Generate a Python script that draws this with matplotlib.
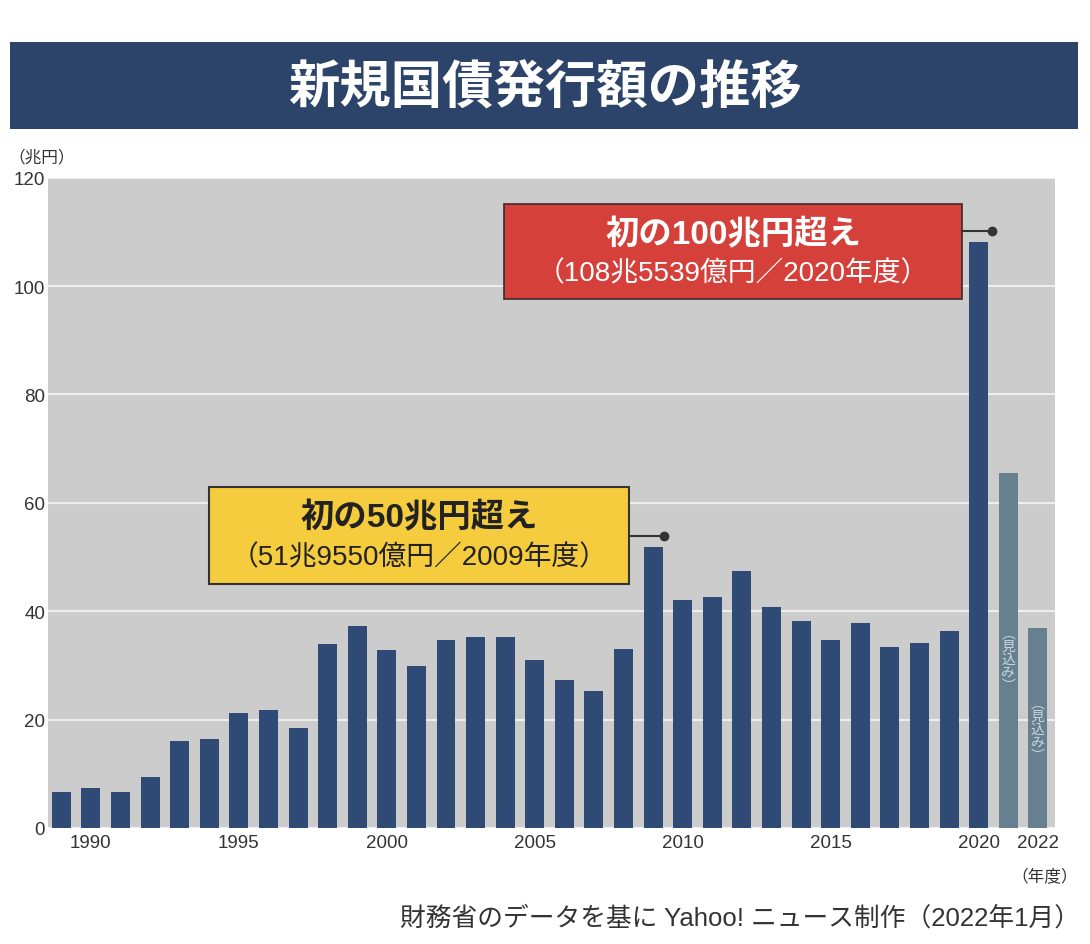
import matplotlib.pyplot as plt
from matplotlib.patches import Rectangle

plt.rcParams['font.family'] = ['Liberation Sans', 'Noto Sans CJK JP', 'DejaVu Sans']

# 新規国債発行額（兆円）
years = list(range(1989, 2023))
values = [6.6, 7.3, 6.7, 9.5, 16.0, 16.5, 21.2, 21.7, 18.4, 33.9,
          37.3, 32.9, 29.8, 34.7, 35.2, 35.3, 31.0, 27.3, 25.2, 33.1,
          51.8, 42.1, 42.6, 47.4, 40.7, 38.2, 34.7, 37.9, 33.4, 34.2,
          36.4, 108.1, 65.5, 36.9]
estimate_years = [2021, 2022]
xtick_years = [1990, 1995, 2000, 2005, 2010, 2015, 2020, 2022]
ytick_values = [0, 20, 40, 60, 80, 100, 120]

NAVY = '#2f4a74'
EST = '#67808f'
CJK = ['Noto Sans CJK JP', 'DejaVu Sans']

fig = plt.figure(figsize=(10.9, 9.45), dpi=100)
fig.patch.set_facecolor('white')

# タイトル帯
fig.patches.append(Rectangle((10 / 1090, 1 - 130 / 945), 1068 / 1090, 87 / 945,
                             transform=fig.transFigure, facecolor='#2c4469',
                             edgecolor='none', zorder=0))
fig.text(0.5, 1 - 88 / 945, '新規国債発行額の推移', color='white', fontsize=37,
         fontweight='bold', ha='center', va='center', family=CJK)

ax = fig.add_axes([48 / 1090, 1 - 829 / 945, 1007 / 1090, 650.4 / 945])
ax.set_facecolor('#cccccc')
colors = [EST if y in estimate_years else NAVY for y in years]
ax.bar(years, values, width=0.64, color=colors, zorder=3)
ax.set_xlim(1988.55, 2022.58)
ax.set_ylim(0, 120)
ax.set_yticks(ytick_values)
ax.set_xticks(xtick_years)
ax.grid(axis='y', color='#eeeeee', linewidth=1.5, zorder=1)
for s in ax.spines.values():
    s.set_visible(False)
ax.tick_params(length=0, labelsize=13.5, colors='#333333')
ax.tick_params(axis='y', pad=2)
ax.tick_params(axis='x', pad=4)

# 見込み
for y in estimate_years:
    v = values[years.index(y)]
    ax.text(y, v - 34.3 if y == 2021 else v - 18.6, '︵\n見\n込\nみ\n︶', color='#c9d5e0',
            fontsize=10, ha='center', va='center', linespacing=0.9, zorder=4,
            family=CJK)

# 注記: 100兆円超え
ax.add_patch(Rectangle((2003.97, 97.6), 15.47, 17.5, facecolor='#d6403a',
                       edgecolor='#3a2a2a', linewidth=1.2, zorder=5))
ax.text(2011.7, 109.5, '初の100兆円超え', color='white', fontsize=24,
        fontweight='bold', ha='center', va='center', zorder=6)
ax.text(2011.7, 102.3, '（108兆5539億円／2020年度）', color='white', fontsize=20,
        ha='center', va='center', zorder=6)
ax.plot([2019.44, 2020.45], [110.2, 110.2], color='#333333', linewidth=1.5, zorder=6)
ax.plot([2020.45], [110.2], 'o', color='#333333', markersize=6, zorder=6)

# 注記: 50兆円超え
ax.add_patch(Rectangle((1994.0, 45.0), 14.2, 17.9, facecolor='#f5cc3d',
                       edgecolor='#333333', linewidth=1.5, zorder=5))
ax.text(2001.1, 57.4, '初の50兆円超え', color='#222222', fontsize=24,
        fontweight='bold', ha='center', va='center', zorder=6)
ax.text(2001.1, 49.9, '（51兆9550億円／2009年度）', color='#222222', fontsize=20,
        ha='center', va='center', zorder=6)
ax.plot([2008.2, 2009.35], [53.9, 53.9], color='#333333', linewidth=1.5, zorder=6)
ax.plot([2009.35], [53.9], 'o', color='#333333', markersize=6, zorder=6)

fig.text(8 / 1090, 1 - 157 / 945, '（兆円）', fontsize=12, color='#333333',
         ha='left', va='center')
fig.text(1078 / 1090, 1 - 877 / 945, '（年度）', fontsize=12, color='#333333',
         ha='right', va='center')
fig.text(1080 / 1090, 1 - 918 / 945, '財務省のデータを基に Yahoo! ニュース制作（2022年1月）',
         fontsize=18.5, color='#333333', ha='right', va='center')

fig.savefig('out.png', dpi=100)
